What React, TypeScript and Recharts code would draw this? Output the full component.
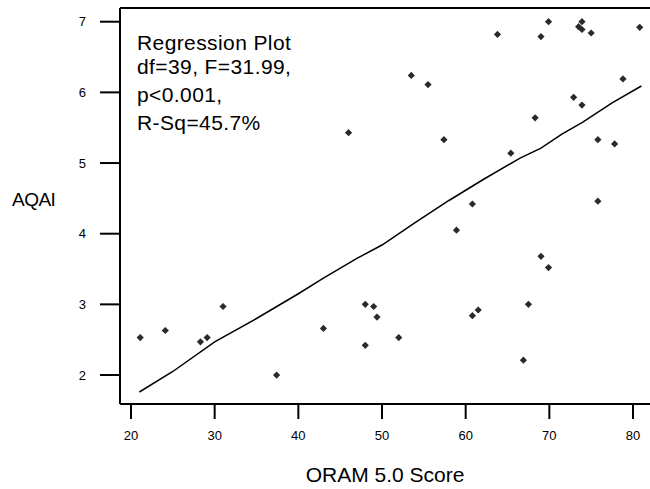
import React from 'react'
import {
  ScatterChart,
  Scatter,
  XAxis,
  YAxis,
  ReferenceLine,
} from 'recharts'

// ORAM 5.0 score vs AQAI, one entry per site
const oramScores = [
  21.1, 24.1, 28.3, 29.1, 31.0, 37.4, 43.0, 46.0, 48.0, 48.0,
  49.0, 49.4, 52.0, 53.5, 55.5, 57.4, 58.9, 60.8, 60.8, 61.5,
  63.8, 65.4, 66.9, 67.5, 68.3, 69.0, 69.0, 69.9, 69.9, 72.9,
  73.5, 73.9, 73.9, 73.9, 75.0, 75.8, 75.8, 77.8, 78.8, 80.8,
]
const aqaiValues = [
  2.53, 2.63, 2.47, 2.53, 2.97, 2.0, 2.66, 5.43, 3.0, 2.42,
  2.97, 2.82, 2.53, 6.24, 6.11, 5.33, 4.05, 4.42, 2.84, 2.92,
  6.82, 5.14, 2.21, 3.0, 5.64, 6.79, 3.68, 7.0, 3.52, 5.93,
  6.93, 7.0, 6.89, 5.82, 6.84, 5.33, 4.46, 5.27, 6.19, 6.92,
]

// fitted line
const fitX = [21, 25, 30, 35, 40, 43, 47, 50, 54, 58, 62, 66.5, 69, 71.5, 74, 77.5, 81]
const fitY = [1.76, 2.05, 2.47, 2.8, 3.15, 3.37, 3.65, 3.84, 4.16, 4.47, 4.76, 5.07, 5.21, 5.41, 5.58, 5.85, 6.09]

const xTicks = [20, 30, 40, 50, 60, 70, 80]
const yTicks = [2, 3, 4, 5, 6, 7]

const annotation = ['Regression Plot', 'df=39, F=31.99,', 'p<0.001,', 'R-Sq=45.7%']

const X_DOMAIN: [number, number] = [18.685, 82.03]
const Y_DOMAIN: [number, number] = [1.59, 7.194]

const FONT = '"Liberation Sans", Arial, sans-serif'

const points = oramScores.map((x, i) => ({ x, y: aqaiValues[i] }))
const fit = fitX.map((x, i) => ({ x, y: fitY[i] }))

function Diamond(props: any) {
  const { cx, cy } = props
  const r = 3.6
  return (
    <path
      d={`M${cx},${cy - r}L${cx + r},${cy}L${cx},${cy + r}L${cx - r},${cy}Z`}
      fill="#2a2a2a"
    />
  )
}

export default function App() {
  const baselines = [50, 74, 101.7, 129.5]
  return (
    <div style={{ position: 'absolute', left: 0, top: 0, width: 650, height: 489, background: '#fff', fontFamily: FONT }}>
      <ScatterChart width={650} height={489} margin={{ top: 8, right: 0, bottom: 0, left: 0 }}>
        <XAxis
          type="number"
          dataKey="x"
          domain={X_DOMAIN}
          ticks={xTicks}
          allowDataOverflow
          height={85}
          tickSize={15}
          tickMargin={12}
          axisLine={{ stroke: '#000', strokeWidth: 2 }}
          tickLine={{ stroke: '#000', strokeWidth: 2 }}
          tick={{ fill: '#000', fontSize: 13, fontFamily: FONT }}
          label={{ value: 'ORAM 5.0 Score', position: 'insideBottom', offset: 7, fill: '#000', fontSize: 21, fontFamily: FONT }}
        />
        <YAxis
          type="number"
          dataKey="y"
          domain={Y_DOMAIN}
          ticks={yTicks}
          allowDataOverflow
          width={120}
          tickSize={20}
          tickMargin={14}
          axisLine={{ stroke: '#000', strokeWidth: 2 }}
          tickLine={{ stroke: '#000', strokeWidth: 2 }}
          tick={{ fill: '#000', fontSize: 13, fontFamily: FONT }}
          label={{ value: 'AQAI', position: 'insideLeft', offset: 12, dy: -7, fill: '#000', fontSize: 19, letterSpacing: -0.5, fontFamily: FONT }}
        />
        <ReferenceLine y={Y_DOMAIN[1]} stroke="#000" strokeWidth={2} ifOverflow="visible" />
        <Scatter
          data={fit}
          line={{ stroke: '#000', strokeWidth: 1.5 }}
          shape={() => <g />}
          isAnimationActive={false}
        />
        <Scatter data={points} shape={Diamond} isAnimationActive={false} />
      </ScatterChart>
      <svg
        width={650}
        height={489}
        style={{ position: 'absolute', left: 0, top: 0, pointerEvents: 'none' }}
      >
        {annotation.map((t, i) => (
          <text key={t} x={137} y={baselines[i]} fontSize={21} letterSpacing={0.4} fontFamily={FONT} fill="#000">
            {t}
          </text>
        ))}
      </svg>
    </div>
  )
}
